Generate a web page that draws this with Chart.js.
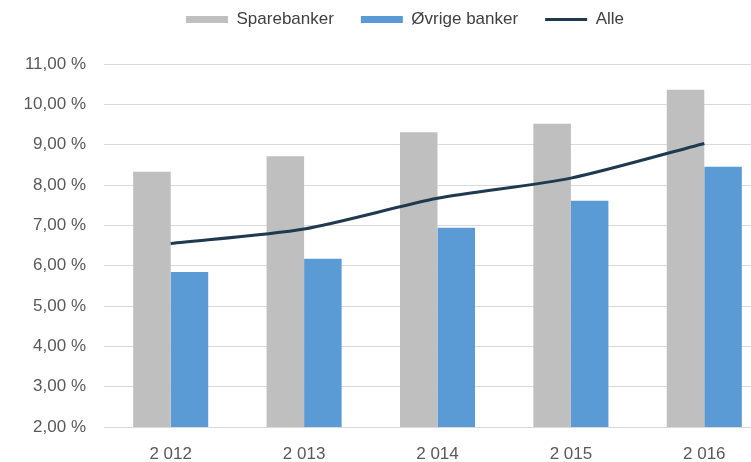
<!DOCTYPE html>
<html>
<head>
<meta charset="utf-8">
<script src="https://cdn.jsdelivr.net/npm/chart.js@4/dist/chart.umd.min.js"></script>
<style>
  html, body { margin: 0; padding: 0; background: #fff; overflow: hidden; }
  #wrap { width: 751px; height: 462px; overflow: hidden; position: relative; }
  #wrap canvas { position: absolute; left: 0; top: 0; }
</style>
</head>
<body>
<div id="wrap"><canvas id="rentChart" width="772" height="462"></canvas></div>
<script>
const years = ["2 012", "2 013", "2 014", "2 015", "2 016"];
const sparebanker = [8.33, 8.71, 9.31, 9.52, 10.36];
const ovrigeBanker = [5.84, 6.17, 6.94, 7.61, 8.45];
const alle = [6.55, 6.91, 7.67, 8.17, 9.03];
const yTicks = ["2,00 %", "3,00 %", "4,00 %", "5,00 %", "6,00 %", "7,00 %", "8,00 %", "9,00 %", "10,00 %", "11,00 %"];
const yMin = 2;
const yMax = 11;

Chart.defaults.font.family = "'Liberation Sans', Arial, sans-serif";
Chart.defaults.font.size = 17;
Chart.defaults.color = "#595959";

// legend sits left of plot centre in the original, move it after layout
const legendSpot = {
  id: "legendSpot",
  afterLayout(chart) {
    const lg = chart.legend;
    const h = lg.height;
    lg.left = 0;
    lg.right = 810;
    lg.width = 810;
    lg.top = -16;
    lg.bottom = lg.top + h;
  }
};

const ctx = document.getElementById("rentChart").getContext("2d");

const chart = new Chart(ctx, {
  type: "bar",
  data: {
    labels: years,
    datasets: [
      {
        label: "Sparebanker",
        data: sparebanker,
        backgroundColor: "#BFBFBF",
        borderWidth: 0,
        pointStyle: "rect",
        order: 1,
      },
      {
        label: "Øvrige banker",
        data: ovrigeBanker,
        backgroundColor: "#5B9BD5",
        borderWidth: 0,
        pointStyle: "rect",
        order: 1,
      },
      {
        type: "line",
        label: "Alle",
        data: alle,
        borderColor: "#1F3A4F",
        backgroundColor: "#1F3A4F",
        borderWidth: 3,
        tension: 0.25,
        pointRadius: 0,
        pointStyle: "line",
        fill: false,
        order: 0,
      },
    ],
  },
  options: {
    responsive: false,
    animation: false,
    layout: { padding: { top: 10, right: 1, left: 0, bottom: 0 } },
    datasets: {
      bar: { categoryPercentage: 0.5625, barPercentage: 1.0 },
    },
    plugins: {
      legend: {
        display: true,
        position: "top",
        labels: {
          usePointStyle: true,
          pointStyleWidth: 42,
          boxHeight: 7,
          padding: 27,
          color: "#404040",
          sort: (a, b) => a.datasetIndex - b.datasetIndex,
        },
      },
      tooltip: { enabled: false },
    },
    scales: {
      x: {
        grid: { display: false, drawTicks: false },
        border: { display: true, color: "#D9D9D9", width: 1 },
        ticks: { padding: 17, color: "#595959" },
        afterFit: (scale) => { scale.height = 35; },
      },
      y: {
        min: yMin,
        max: yMax,
        grid: { color: "#D9D9D9", lineWidth: 1, drawTicks: false },
        border: { display: false },
        ticks: {
          stepSize: 1,
          padding: 18,
          color: "#595959",
          callback: (value) => yTicks[value - yMin],
        },
        afterFit: (scale) => { scale.width = 104; },
      },
    },
  },
  plugins: [legendSpot],
});
</script>
</body>
</html>
